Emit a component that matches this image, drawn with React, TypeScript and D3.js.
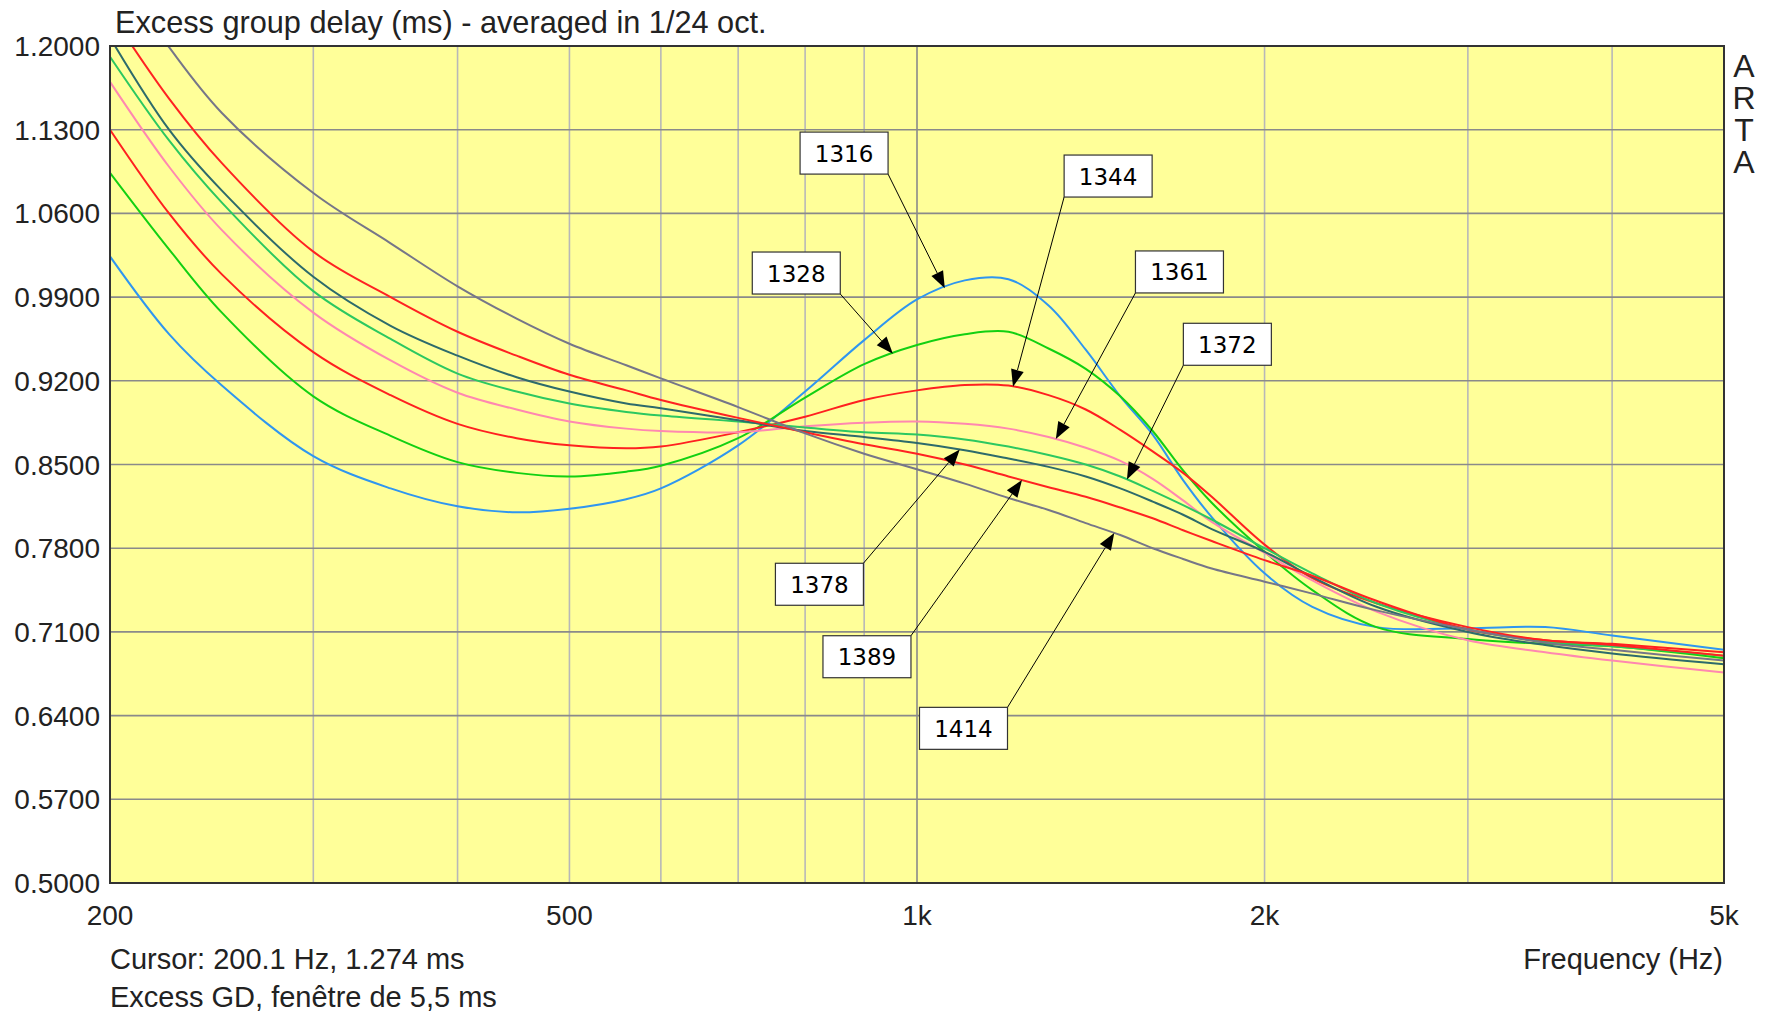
import * as d3 from "d3";

const freqs = [200, 225, 250, 300, 350, 400, 450, 500, 560, 600, 700, 800, 900, 1000, 1100, 1200, 1300, 1400, 1500, 1600, 1700, 1800, 2000, 2200, 2500, 3000, 3500, 4000, 5000];

// excess group delay (ms), one array per measurement
const gd1316 = [1.024, 0.959, 0.916, 0.857, 0.830, 0.815, 0.810, 0.813, 0.821, 0.830, 0.866, 0.911, 0.954, 0.988, 1.004, 1.005, 0.983, 0.946, 0.907, 0.875, 0.837, 0.806, 0.759, 0.731, 0.714, 0.713, 0.714, 0.707, 0.695];
const gd1328 = [1.094, 1.030, 0.977, 0.907, 0.874, 0.852, 0.843, 0.840, 0.844, 0.849, 0.872, 0.906, 0.934, 0.950, 0.959, 0.961, 0.947, 0.930, 0.907, 0.878, 0.845, 0.818, 0.777, 0.745, 0.714, 0.704, 0.700, 0.698, 0.688];
const gd1344 = [1.130, 1.060, 1.009, 0.944, 0.908, 0.884, 0.872, 0.866, 0.8635, 0.865, 0.877, 0.890, 0.904, 0.912, 0.9165, 0.916, 0.908, 0.896, 0.879, 0.861, 0.843, 0.823, 0.783, 0.755, 0.734, 0.714, 0.703, 0.700, 0.693];
const gd1361 = [1.170, 1.099, 1.046, 0.977, 0.937, 0.910, 0.896, 0.886, 0.880, 0.878, 0.877, 0.882, 0.885, 0.886, 0.884, 0.880, 0.873, 0.864, 0.853, 0.838, 0.820, 0.802, 0.776, 0.753, 0.727, 0.703, 0.693, 0.686, 0.676];
const gd1372 = [1.191, 1.121, 1.069, 0.995, 0.955, 0.926, 0.911, 0.901, 0.894, 0.891, 0.886, 0.881, 0.877, 0.875, 0.871, 0.865, 0.858, 0.850, 0.840, 0.828, 0.816, 0.804, 0.780, 0.759, 0.734, 0.712, 0.702, 0.698, 0.690];
const gd1378 = [1.207, 1.130, 1.079, 1.007, 0.966, 0.941, 0.923, 0.911, 0.901, 0.897, 0.887, 0.878, 0.873, 0.868, 0.862, 0.855, 0.848, 0.840, 0.830, 0.819, 0.808, 0.796, 0.777, 0.756, 0.731, 0.710, 0.699, 0.692, 0.683];
const gd1389 = [1.228, 1.156, 1.102, 1.028, 0.990, 0.961, 0.941, 0.925, 0.912, 0.904, 0.889, 0.877, 0.867, 0.859, 0.850, 0.840, 0.831, 0.823, 0.814, 0.805, 0.795, 0.786, 0.770, 0.757, 0.736, 0.712, 0.703, 0.699, 0.690];
const gd1414 = [1.270, 1.199, 1.144, 1.077, 1.035, 0.999, 0.972, 0.951, 0.933, 0.922, 0.898, 0.876, 0.859, 0.846, 0.834, 0.822, 0.812, 0.801, 0.791, 0.780, 0.771, 0.763, 0.752, 0.742, 0.728, 0.712, 0.701, 0.695, 0.686];

const series = [
  { name: "1316", values: gd1316, color: "#2f96f0" },
  { name: "1328", values: gd1328, color: "#12d012" },
  { name: "1344", values: gd1344, color: "#ff2020" },
  { name: "1361", values: gd1361, color: "#ff88b0" },
  { name: "1372", values: gd1372, color: "#2cc860" },
  { name: "1378", values: gd1378, color: "#2d6b6b" },
  { name: "1389", values: gd1389, color: "#ff2222" },
  { name: "1414", values: gd1414, color: "#767688" },
];

// label boxes: box top-left in data coords, target frequency on the curve, corner the leader starts from
const labels = [
  { name: "1316", boxF: 792, boxV: 1.128, targetF: 1057, corner: "br" },
  { name: "1328", boxF: 720, boxV: 1.0277, targetF: 953, corner: "br" },
  { name: "1344", boxF: 1341, boxV: 1.1088, targetF: 1211, corner: "bl" },
  { name: "1361", boxF: 1546, boxV: 1.0286, targetF: 1319, corner: "bl" },
  { name: "1372", boxF: 1701, boxV: 0.9681, targetF: 1520, corner: "bl" },
  { name: "1378", boxF: 754, boxV: 0.7674, targetF: 1089, corner: "tr" },
  { name: "1389", boxF: 829, boxV: 0.7068, targetF: 1233, corner: "tr" },
  { name: "1414", boxF: 1005, boxV: 0.6469, targetF: 1482, corner: "tr" },
];

const yTicks = [0.5, 0.57, 0.64, 0.71, 0.78, 0.85, 0.92, 0.99, 1.06, 1.13, 1.2];
const xTicks = [200, 500, 1000, 2000, 5000];
const xTickLabels = ["200", "500", "1k", "2k", "5k"];
const minorGrid = [300, 400, 500, 600, 700, 800, 900, 2000, 3000, 4000];
const majorGrid = [1000];

const W = 1766;
const H = 1018;
const left = 110, right = 1724, top = 46, bottom = 883;
const BOX_W = 88, BOX_H = 42;
const axisFont = "'Liberation Sans', Arial, sans-serif";

function interp(values: number[], f: number) {
  const lf = Math.log10(f);
  for (let i = 0; i < freqs.length - 1; i++) {
    const a = Math.log10(freqs[i]), b = Math.log10(freqs[i + 1]);
    if (lf >= a && lf <= b) {
      const t = (lf - a) / (b - a);
      return values[i] + t * (values[i + 1] - values[i]);
    }
  }
  return values[values.length - 1];
}

export default function App() {
  const x = d3.scaleLog().domain([200, 5000]).range([left, right]);
  const y = d3.scaleLinear().domain([0.5, 1.2]).range([bottom, top]);

  const line = d3
    .line<number>()
    .x((d, i) => x(freqs[i]))
    .y((d) => y(d))
    .curve(d3.curveCatmullRom.alpha(0.5));

  return (
    <svg width={W} height={H} style={{ position: "absolute", left: 0, top: 0, background: "#fff" }}>
      <defs>
        <clipPath id="plot">
          <rect x={left} y={top} width={right - left} height={bottom - top} />
        </clipPath>
      </defs>
      <rect x={left} y={top} width={right - left} height={bottom - top} fill="#ffff99" />

      {/* grid */}
      {minorGrid.map((f) => (
        <line key={"m" + f} x1={x(f)} x2={x(f)} y1={top} y2={bottom} stroke="#b8b8b8" strokeWidth={1.6} />
      ))}
      {majorGrid.map((f) => (
        <line key={"M" + f} x1={x(f)} x2={x(f)} y1={top} y2={bottom} stroke="#8a8a8a" strokeWidth={1.6} />
      ))}
      {yTicks.map((v) => (
        <line key={"h" + v} x1={left} x2={right} y1={y(v)} y2={y(v)} stroke="#8a8a8a" strokeWidth={1.6} />
      ))}

      {/* curves */}
      <g clipPath="url(#plot)">
        {series.map((s) => (
          <path key={s.name} d={line(s.values) || ""} fill="none" stroke={s.color} strokeWidth={2} />
        ))}
      </g>

      <rect x={left} y={top} width={right - left} height={bottom - top} fill="none" stroke="#333" strokeWidth={2} />

      {/* label boxes with leaders */}
      {labels.map((l) => {
        const s = series.find((d) => d.name === l.name)!;
        const tx = x(l.targetF);
        const ty = y(interp(s.values, l.targetF));
        const bx = x(l.boxF);
        const by = y(l.boxV);
        const cx = l.corner.includes("r") ? bx + BOX_W : bx;
        const cy = l.corner.includes("b") ? by + BOX_H : by;
        const ang = Math.atan2(ty - cy, tx - cx);
        const len = 17, hw = 6.5;
        const baseX = tx - len * Math.cos(ang), baseY = ty - len * Math.sin(ang);
        const px = -Math.sin(ang) * hw, py = Math.cos(ang) * hw;
        const head = `M${tx},${ty}L${baseX + px},${baseY + py}L${baseX - px},${baseY - py}Z`;
        return (
          <g key={"lab" + l.name}>
            <line x1={cx} y1={cy} x2={baseX} y2={baseY} stroke="#000" strokeWidth={1} />
            <path d={head} fill="#000" />
            <rect x={bx} y={by} width={BOX_W} height={BOX_H} fill="#fff" stroke="#333" strokeWidth={1.2} />
            <text
              x={bx + BOX_W / 2}
              y={by + BOX_H / 2 + 8.5}
              textAnchor="middle"
              fontFamily="'DejaVu Sans', Verdana, sans-serif"
              fontSize={23}
              fill="#000"
            >
              {l.name}
            </text>
          </g>
        );
      })}

      {/* y tick labels */}
      {yTicks.map((v) => (
        <text key={"yt" + v} x={100} y={y(v) + 10} textAnchor="end" fontFamily={axisFont} fontSize={28} fill="#222">
          {v.toFixed(4)}
        </text>
      ))}
      {/* x tick labels */}
      {xTicks.map((f, i) => (
        <text key={"xt" + f} x={x(f)} y={925} textAnchor="middle" fontFamily={axisFont} fontSize={28} fill="#222">
          {xTickLabels[i]}
        </text>
      ))}

      <text x={115} y={33} fontFamily={axisFont} fontSize={30.7} fill="#222">
        Excess group delay (ms) - averaged in 1/24 oct.
      </text>
      <text x={110} y={969} fontFamily={axisFont} fontSize={29} fill="#222">
        Cursor: 200.1 Hz, 1.274 ms
      </text>
      <text x={110} y={1007} fontFamily={axisFont} fontSize={29} fill="#222">
        Excess GD, fenêtre de 5,5 ms
      </text>
      <text x={1723} y={969} textAnchor="end" fontFamily={axisFont} fontSize={29} fill="#222">
        Frequency (Hz)
      </text>
      <text
        x={1744}
        y={48}
        fontFamily={axisFont}
        fontSize={32}
        fill="#222"
        letterSpacing={-4}
        style={{ writingMode: "vertical-rl", textOrientation: "upright" } as any}
      >
        ARTA
      </text>
    </svg>
  );
}
